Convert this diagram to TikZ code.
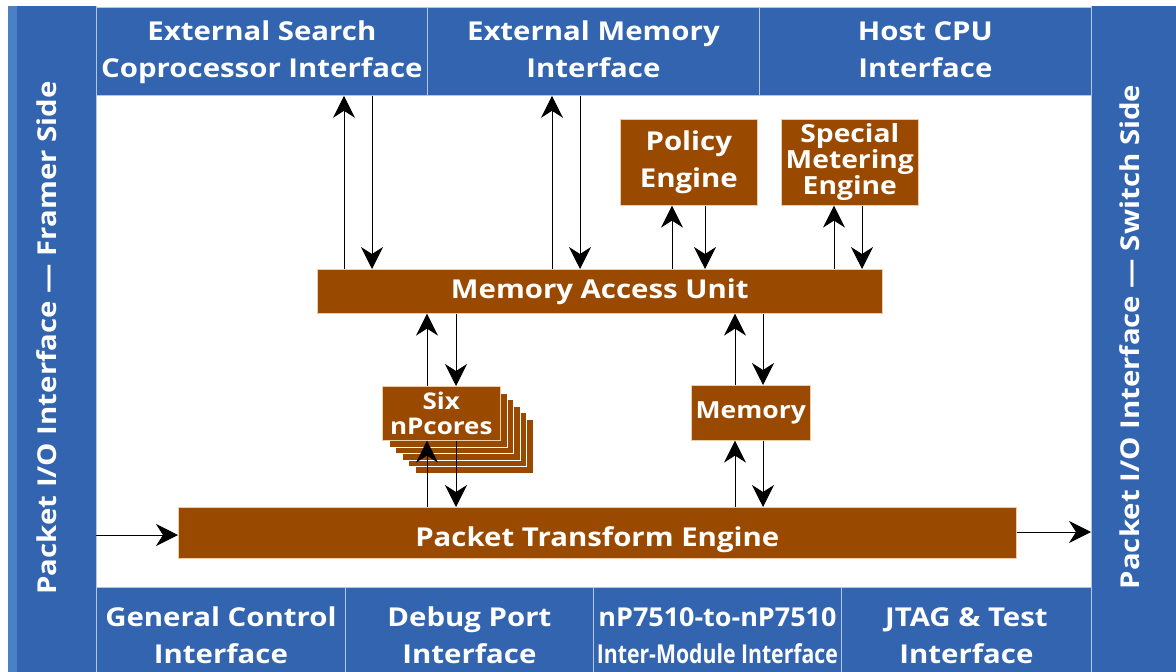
\documentclass[tikz,border=0pt]{standalone}
\usepackage{fontspec}
\setmainfont{Open Sans}[FakeStretch=1.13]
\usetikzlibrary{arrows.meta}

\definecolor{ifblue}{RGB}{50,100,175}
\definecolor{ifstrip}{RGB}{74,128,196}
\definecolor{ifline}{RGB}{180,198,228}
\definecolor{unitbrown}{RGB}{153,74,0}
\definecolor{unitedge}{RGB}{236,206,170}

\tikzset{
  lbl/.style={font=\bfseries\fontsize{26}{37}\selectfont, text=white, align=center, inner sep=0pt},
  iface/.style={lbl, fill=ifblue, draw=ifline, line width=0.8pt, anchor=north west},
  panel/.style={fill=ifblue, draw=none, anchor=north west, inner sep=0pt},
  unit/.style={lbl, fill=unitbrown, draw=unitedge, line width=0.6pt, anchor=north west},
  tight/.style={font=\bfseries\fontsize{25}{24.5}\selectfont},
  link/.style={line width=1pt, -{Stealth[length=22pt,width=22pt,inset=7pt]}},
}

\begin{document}
\begin{tikzpicture}[x=1pt,y=-1pt]
\useasboundingbox (0,0) rectangle (1176,672);

% side panels (they run past the bottom edge of the page)
\node[panel, minimum width=88pt, minimum height=680pt] (framer) at (8,6) {};
\fill[ifstrip] (8,6) rectangle (17,686);
\draw[ifline, line width=0.8pt] (96,6) -- (96,686);
\node[lbl, rotate=90] (framerlbl) at (47,338) {Packet I/O Interface — Framer Side};

\node[panel, minimum width=85pt, minimum height=680pt] (switch) at (1091,6) {};
\draw[ifline, line width=0.8pt] (1091,6) -- (1091,686);
\node[lbl, rotate=90] (switchlbl) at (1130,337) {Packet I/O Interface — Switch Side};

% top interfaces
\node[iface, minimum width=331pt, minimum height=88pt] (esc) at (96,7) {\strut External Search\\Coprocessor Interface\strut};
\node[iface, minimum width=332pt, minimum height=88pt] (emi) at (427,7) {\strut External Memory\\Interface\strut};
\node[iface, minimum width=332pt, minimum height=88pt] (cpu) at (759,7) {\strut Host CPU\\Interface\strut};

% bottom interfaces (cut off by the page edge)
\node[iface, minimum width=249pt, minimum height=100pt] (gci) at (96,587) {\strut General Control\\Interface\strut};
\node[iface, minimum width=248pt, minimum height=100pt] (dbg) at (345,587) {\strut Debug Port\\Interface\strut};
\node[iface, minimum width=248pt, minimum height=100pt] (imi) at (593,587)
  {\strut\resizebox{238pt}{\height}{nP7510-to-nP7510}\\\resizebox{241pt}{\height}{Inter-Module Interface}\strut};
\node[iface, minimum width=250pt, minimum height=100pt] (jtag) at (841,587) {\strut JTAG \& Test\\Interface\strut};

% processing units
\node[unit, minimum width=137pt, minimum height=86pt] (pol) at (620,119) {Policy\\Engine};
\node[unit, tight, minimum width=137pt, minimum height=86pt] (sme) at (781,119) {Special\\Metering\\Engine};
\node[unit, minimum width=565pt, minimum height=44pt] (mau) at (317,269) {Memory Access Unit};
\node[unit, font=\bfseries\fontsize{23.5}{24}\selectfont, minimum width=119pt, minimum height=55pt] (mem) at (691,385) {Memory};
\foreach \k in {5,4,3,2,1}
  \node[unit, draw=white, minimum width=118pt, minimum height=54pt] (core\k) at (382+6.6*\k,386+6.6*\k) {};
\node[unit, font=\bfseries\fontsize{23}{25}\selectfont, minimum width=118pt, minimum height=54pt] (cores) at (382,386) {Six\\nPcores};
\node[unit, minimum width=838pt, minimum height=51pt] (pte) at (178,507) {\raisebox{-14pt}[0pt][0pt]{Packet Transform Engine}};

% connector columns
\coordinate (c1) at (344,0);  \coordinate (c2) at (372,0);
\coordinate (c3) at (552,0);  \coordinate (c4) at (580,0);
\coordinate (c5) at (672,0);  \coordinate (c6) at (705,0);
\coordinate (c7) at (834,0);  \coordinate (c8) at (862,0);
\coordinate (c9) at (427,0);  \coordinate (c10) at (456,0);
\coordinate (c11) at (735,0); \coordinate (c12) at (763,0);
\coordinate (rin) at (0,535); \coordinate (rout) at (0,532);

% memory access unit to the outer blocks
\draw[link] (c1 |- mau.north) -- (c1 |- esc.south);
\draw[link] (c2 |- esc.south) -- (c2 |- mau.north);
\draw[link] (c3 |- mau.north) -- (c3 |- emi.south);
\draw[link] (c4 |- emi.south) -- (c4 |- mau.north);
\draw[link] (c5 |- mau.north) -- (c5 |- pol.south);
\draw[link] (c6 |- pol.south) -- (c6 |- mau.north);
\draw[link] (c7 |- mau.north) -- (c7 |- sme.south);
\draw[link] (c8 |- sme.south) -- (c8 |- mau.north);

% cores and memory
\draw[link] (c9 |- cores.north) -- (c9 |- mau.south);
\draw[link] (c10 |- mau.south) -- (c10 |- cores.north);
\draw[link] (c11 |- mem.north) -- (c11 |- mau.south);
\draw[link] (c12 |- mau.south) -- (c12 |- mem.north);
\draw[link] (c9 |- pte.north) -- (c9 |- cores.south);
\draw[link] (c10 |- cores.south) -- (c10 |- pte.north);
\draw[link] (c11 |- pte.north) -- (c11 |- mem.south);
\draw[link] (c12 |- mem.south) -- (c12 |- pte.north);

% packet path
\draw[link] (rin -| framer.east) -- (rin -| pte.west);
\draw[link] (rout -| pte.east) -- (rout -| switch.west);
\end{tikzpicture}
\end{document}
